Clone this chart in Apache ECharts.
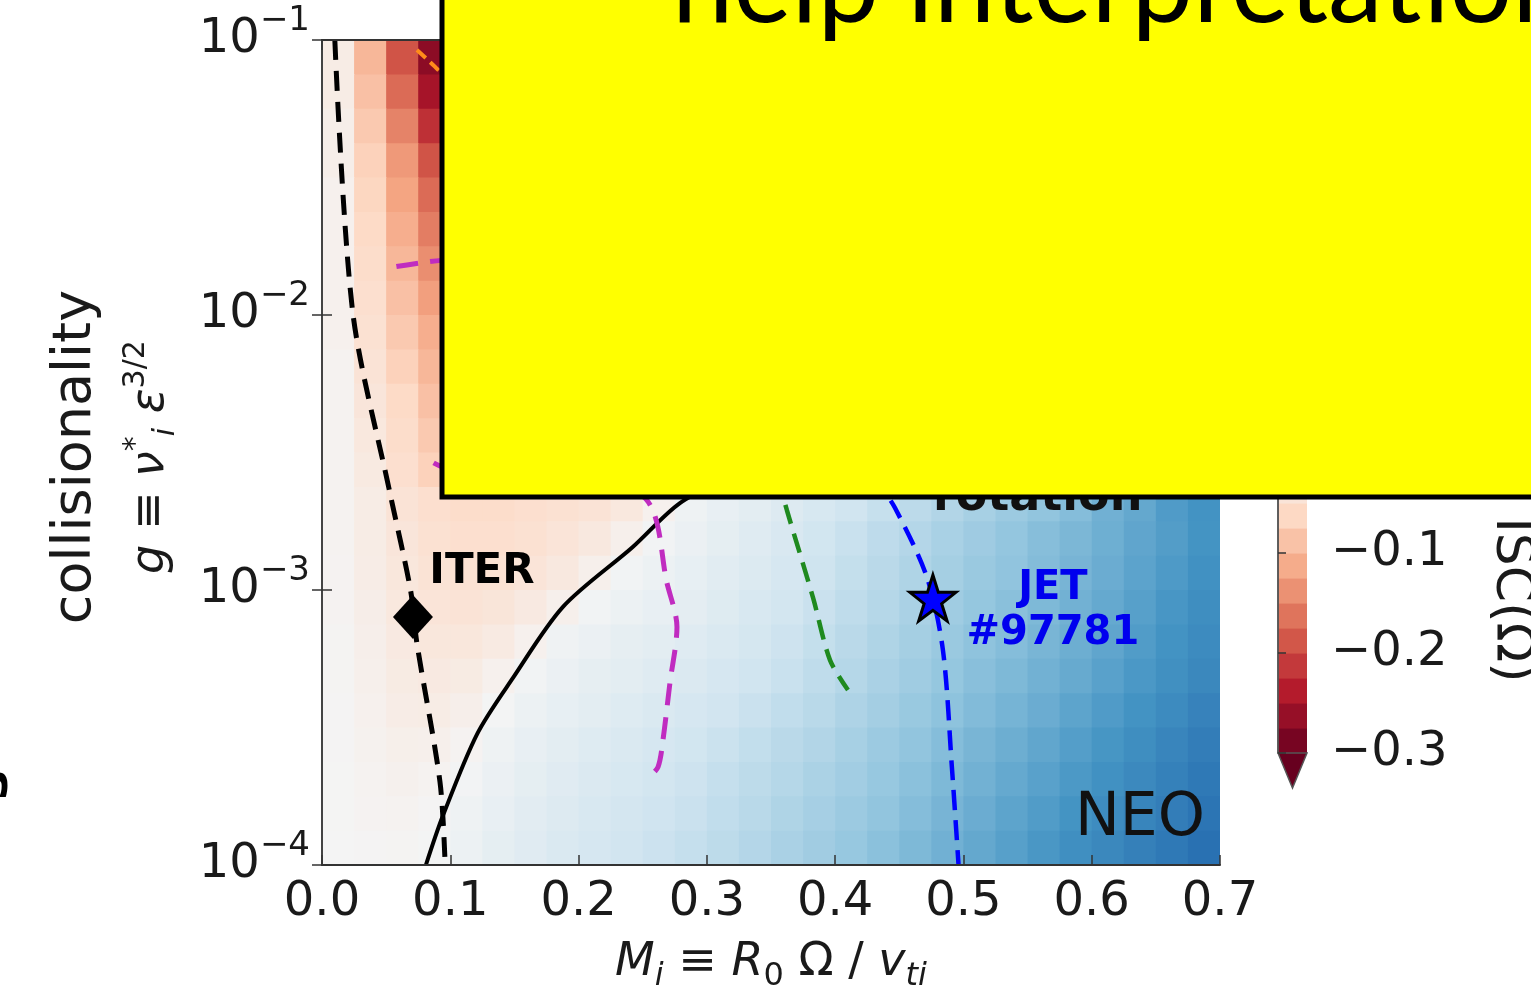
<!DOCTYPE html>
<html>
<head>
<meta charset="utf-8">
<script src="https://cdn.jsdelivr.net/npm/echarts@6.0.0/dist/echarts.min.js"></script>
<style>
html, body { margin: 0; background: #fff; }
#main { width: 1531px; height: 990px; }
</style>
</head>
<body>
<div id="main"></div>
<script>
// shaded map: cell centres in M_i and in log10(g)
var cellX = [0.0125, 0.0375, 0.0625, 0.0875, 0.1125, 0.1375, 0.1625, 0.1875, 0.2125, 0.2375,
  0.2625, 0.2875, 0.3125, 0.3375, 0.3625, 0.3875, 0.4125, 0.4375, 0.4625, 0.4875,
  0.5125, 0.5375, 0.5625, 0.5875, 0.6125, 0.6375, 0.6625, 0.6875];
var cellLogG = [-1.0625, -1.1875, -1.3125, -1.4375, -1.5625, -1.6875, -1.8125, -1.9375,
  -2.0625, -2.1875, -2.3125, -2.4375, -2.5625, -2.6875, -2.8125, -2.9375,
  -3.0625, -3.1875, -3.3125, -3.4375, -3.5625, -3.6875, -3.8125, -3.9375];
// rows from top (g = 0.1) to bottom (g = 1e-4)
var field = [
  [-0.02,-0.10,-0.19,-0.27,-0.31,-0.33,-0.34,-0.34,-0.33,-0.32,-0.31,-0.30,-0.28,-0.27,-0.25,-0.24,-0.22,-0.20,-0.18,-0.16,-0.14,-0.12,-0.10,-0.08,-0.07,-0.05,-0.03,-0.02],
  [-0.02,-0.09,-0.17,-0.25,-0.29,-0.31,-0.32,-0.32,-0.31,-0.30,-0.29,-0.27,-0.26,-0.24,-0.22,-0.21,-0.19,-0.17,-0.15,-0.13,-0.11,-0.09,-0.07,-0.05,-0.04,-0.02,0.00,0.01],
  [-0.015,-0.08,-0.15,-0.22,-0.26,-0.28,-0.29,-0.29,-0.28,-0.27,-0.26,-0.24,-0.23,-0.21,-0.19,-0.17,-0.15,-0.13,-0.11,-0.09,-0.08,-0.06,-0.04,-0.02,0.00,0.01,0.03,0.04],
  [-0.015,-0.07,-0.13,-0.19,-0.23,-0.25,-0.26,-0.26,-0.25,-0.24,-0.22,-0.21,-0.19,-0.17,-0.15,-0.13,-0.11,-0.10,-0.08,-0.06,-0.04,-0.02,0.00,0.01,0.03,0.04,0.06,0.07],
  [-0.01,-0.065,-0.12,-0.17,-0.20,-0.22,-0.23,-0.23,-0.22,-0.21,-0.19,-0.17,-0.15,-0.14,-0.12,-0.10,-0.08,-0.06,-0.05,-0.03,-0.01,0.01,0.02,0.04,0.05,0.07,0.08,0.10],
  [-0.01,-0.06,-0.11,-0.155,-0.18,-0.19,-0.20,-0.20,-0.19,-0.18,-0.16,-0.14,-0.12,-0.11,-0.09,-0.07,-0.05,-0.04,-0.02,0.00,0.01,0.03,0.04,0.06,0.07,0.09,0.10,0.12],
  [-0.01,-0.055,-0.10,-0.14,-0.16,-0.17,-0.17,-0.17,-0.16,-0.15,-0.13,-0.12,-0.10,-0.08,-0.06,-0.05,-0.03,-0.01,0.00,0.02,0.03,0.05,0.06,0.08,0.09,0.11,0.12,0.14],
  [-0.01,-0.05,-0.09,-0.125,-0.14,-0.15,-0.15,-0.15,-0.14,-0.12,-0.11,-0.09,-0.08,-0.06,-0.04,-0.03,-0.01,0.00,0.02,0.03,0.05,0.06,0.08,0.09,0.11,0.12,0.14,0.15],
  [-0.01,-0.045,-0.08,-0.11,-0.12,-0.13,-0.13,-0.13,-0.12,-0.10,-0.09,-0.07,-0.06,-0.04,-0.03,-0.01,0.00,0.02,0.03,0.05,0.06,0.08,0.09,0.11,0.12,0.13,0.15,0.16],
  [-0.005,-0.04,-0.07,-0.10,-0.11,-0.11,-0.11,-0.11,-0.10,-0.09,-0.07,-0.06,-0.04,-0.03,-0.01,0.00,0.02,0.03,0.05,0.06,0.07,0.09,0.10,0.12,0.13,0.14,0.16,0.17],
  [-0.005,-0.035,-0.06,-0.09,-0.10,-0.10,-0.10,-0.09,-0.08,-0.07,-0.06,-0.04,-0.03,-0.01,0.00,0.01,0.03,0.04,0.06,0.07,0.08,0.10,0.11,0.12,0.14,0.15,0.16,0.17],
  [-0.005,-0.03,-0.055,-0.08,-0.09,-0.09,-0.08,-0.08,-0.07,-0.06,-0.04,-0.03,-0.02,0.00,0.01,0.02,0.04,0.05,0.06,0.08,0.09,0.10,0.12,0.13,0.14,0.15,0.17,0.18],
  [-0.005,-0.025,-0.05,-0.07,-0.08,-0.08,-0.07,-0.07,-0.06,-0.05,-0.03,-0.02,-0.01,0.01,0.02,0.03,0.04,0.06,0.07,0.08,0.10,0.11,0.12,0.13,0.15,0.16,0.17,0.18],
  [-0.005,-0.02,-0.04,-0.05,-0.055,-0.055,-0.05,-0.045,-0.04,-0.03,-0.01,0.01,0.02,0.03,0.04,0.05,0.06,0.07,0.08,0.09,0.10,0.11,0.12,0.13,0.145,0.155,0.17,0.18],
  [-0.005,-0.02,-0.035,-0.045,-0.05,-0.05,-0.045,-0.038,-0.028,-0.012,0.006,0.016,0.025,0.036,0.047,0.058,0.068,0.078,0.088,0.098,0.108,0.118,0.128,0.137,0.147,0.158,0.168,0.179],
  [-0.004,-0.018,-0.032,-0.042,-0.046,-0.044,-0.038,-0.028,-0.012,0.006,0.014,0.022,0.032,0.042,0.052,0.062,0.072,0.082,0.092,0.102,0.112,0.121,0.131,0.14,0.15,0.161,0.172,0.183],
  [-0.004,-0.016,-0.03,-0.038,-0.04,-0.036,-0.026,-0.012,0.006,0.013,0.02,0.028,0.038,0.048,0.057,0.067,0.077,0.087,0.097,0.107,0.117,0.126,0.135,0.144,0.154,0.165,0.176,0.187],
  [-0.003,-0.014,-0.026,-0.032,-0.032,-0.024,-0.01,0.008,0.016,0.024,0.03,0.036,0.045,0.054,0.063,0.072,0.082,0.092,0.102,0.112,0.122,0.13,0.139,0.148,0.158,0.169,0.18,0.191],
  [-0.003,-0.012,-0.022,-0.026,-0.022,-0.01,0.006,0.016,0.024,0.03,0.036,0.043,0.051,0.06,0.068,0.077,0.087,0.097,0.107,0.117,0.127,0.135,0.144,0.153,0.163,0.174,0.184,0.195],
  [-0.002,-0.01,-0.018,-0.02,-0.014,0.002,0.013,0.022,0.03,0.037,0.044,0.051,0.059,0.067,0.075,0.083,0.093,0.103,0.113,0.123,0.132,0.141,0.15,0.16,0.17,0.18,0.191,0.202],
  [-0.002,-0.008,-0.013,-0.012,-0.004,0.01,0.02,0.029,0.037,0.044,0.051,0.058,0.066,0.074,0.082,0.09,0.1,0.11,0.12,0.13,0.139,0.148,0.157,0.167,0.177,0.187,0.198,0.209],
  [-0.001,-0.006,-0.009,-0.006,0.004,0.016,0.026,0.035,0.043,0.05,0.057,0.063,0.071,0.079,0.087,0.096,0.105,0.115,0.125,0.135,0.144,0.154,0.163,0.173,0.183,0.193,0.204,0.215],
  [-0.001,-0.004,-0.006,-0.002,0.01,0.021,0.031,0.04,0.048,0.055,0.061,0.067,0.075,0.083,0.092,0.101,0.11,0.12,0.13,0.14,0.15,0.16,0.169,0.179,0.189,0.199,0.209,0.22],
  [0.0,-0.002,-0.003,0.002,0.014,0.025,0.035,0.044,0.052,0.059,0.065,0.071,0.079,0.088,0.097,0.106,0.115,0.125,0.135,0.145,0.155,0.165,0.175,0.185,0.195,0.205,0.215,0.225]
];

// contour lines (M_i, g)
var iterX = [0.010, 0.024, 0.053, 0.069, 0.074, 0.092, 0.096];
var iterG = [0.1, 0.0102, 0.00225, 0.001, 0.00064, 0.0002, 0.0001];
var zeroX = [0.081, 0.094, 0.121, 0.149, 0.188, 0.242, 0.279, 0.33, 0.40];
var zeroG = [0.0001, 0.00015, 0.0003, 0.00048, 0.00087, 0.00143, 0.00207, 0.0028, 0.0045];
var magUpX = [0.058, 0.093, 0.14];
var magUpG = [0.0150, 0.0158, 0.016];
var magLowX = [0.087, 0.095, 0.2, 0.2533, 0.2689, 0.2767, 0.2712, 0.2658, 0.2619, 0.2541];
var magLowG = [0.0029, 0.0028, 0.0026, 0.00212, 0.00106, 0.000733, 0.000459, 0.000285, 0.000227, 0.000207];
var greenX = [0.355, 0.3624, 0.3827, 0.396, 0.41];
var greenG = [0.0026, 0.00195, 0.00094, 0.000556, 0.000433];
var blueX = [0.43, 0.4466, 0.4716, 0.484, 0.491, 0.4962];
var blueG = [0.0026, 0.00199, 0.00111, 0.000605, 0.000227, 0.0001];
var orangeX = [0.074, 0.088, 0.1];
var orangeG = [0.092, 0.080, 0.07];

var iterPoint = [0.0709, 0.000798];
var jetPoint = [0.4762, 0.000935];

// colour bar levels (lower edge of each band)
var cbarLow = [-0.3, -0.275, -0.25, -0.225, -0.2, -0.175, -0.15, -0.125, -0.1, -0.075, -0.05, -0.025,
  0, 0.025, 0.05, 0.075, 0.1, 0.125, 0.15, 0.175, 0.2, 0.225, 0.25, 0.275];

var rdbu = ['#67001f', '#b2182b', '#d6604d', '#f4a582', '#fddbc7', '#f4f4f4',
  '#d1e5f0', '#92c5de', '#4393c3', '#2166ac', '#053061'];
var F = "'DejaVu Sans', sans-serif";
var TXT = '#1a1a1a';

function pairs(xs, ys) {
  return xs.map(function (x, i) { return [x, ys[i]]; });
}

var cellData = [];
for (var r = 0; r < cellLogG.length; r++) {
  for (var c = 0; c < cellX.length; c++) {
    cellData.push([cellX[c], Math.pow(10, cellLogG[r]), field[r][c]]);
  }
}
var cbarData = cbarLow.map(function (lo) { return [0, lo, lo + 0.025, lo + 0.0125]; });

function drawCell(params, api) {
  var x = api.value(0);
  var lg = Math.log10(api.value(1));
  var a = api.coord([x - 0.0125, Math.pow(10, lg + 0.0625)]);
  var b = api.coord([x + 0.0125, Math.pow(10, lg - 0.0625)]);
  return {
    type: 'rect',
    shape: { x: a[0], y: a[1], width: b[0] - a[0] + 0.8, height: b[1] - a[1] + 0.8 },
    style: { fill: api.visual('color') }
  };
}

function drawBand(params, api) {
  var a = api.coord([0, api.value(2)]);
  var b = api.coord([1, api.value(1)]);
  return {
    type: 'rect',
    shape: { x: a[0], y: a[1], width: b[0] - a[0], height: b[1] - a[1] + 0.6 },
    style: { fill: api.visual('color') }
  };
}

function drawArrow(params, api) {
  var p1 = api.coord([0, -0.3]);
  var p2 = api.coord([1, -0.3]);
  var p3 = api.coord([0.5, -0.335]);
  return {
    type: 'polygon',
    shape: { points: [p1, p2, p3] },
    style: { fill: '#67001f', stroke: '#555', lineWidth: 1.5 }
  };
}

function dashed(name, xs, ys, color, width, dash) {
  return {
    name: name, type: 'line', xAxisIndex: 0, yAxisIndex: 0,
    data: pairs(xs, ys), showSymbol: false, smooth: 0.3, z: 4,
    lineStyle: { color: color, width: width, type: dash }
  };
}

var chart = echarts.init(document.getElementById('main'));

var option = {
  animation: false,
  backgroundColor: '#fff',
  grid: [
    { left: 322, top: 40, width: 898, height: 825, outerBoundsMode: 'none' },
    { left: 1278, top: 153, width: 29, height: 600, outerBoundsMode: 'none' }
  ],
  xAxis: [
    {
      type: 'value', gridIndex: 0, min: 0, max: 0.7, interval: 0.1, z: 10,
      axisLine: { lineStyle: { color: '#333', width: 2 } },
      axisTick: { inside: true, length: 10, lineStyle: { color: '#333', width: 1.5 } },
      splitLine: { show: false },
      axisLabel: {
        margin: 14, fontSize: 48, fontFamily: F, color: TXT,
        formatter: function (v) { return v.toFixed(1); }
      },
      name: '{it|M}{sub|i}{n| ≡ }{it|R}{sub0|0}{n| Ω / }{it|v}{sub|ti}',
      nameLocation: 'middle', nameGap: 68,
      nameTextStyle: {
        rich: {
          it: { fontSize: 46, fontStyle: 'italic', fontFamily: F, color: TXT, lineHeight: 60 },
          n: { fontSize: 46, fontFamily: F, color: TXT, lineHeight: 60 },
          sub: { fontSize: 32, fontStyle: 'italic', fontFamily: F, color: TXT, lineHeight: 32, verticalAlign: 'bottom' },
          sub0: { fontSize: 32, fontFamily: F, color: TXT, lineHeight: 32, verticalAlign: 'bottom' }
        }
      }
    },
    {
      type: 'value', gridIndex: 0, position: 'top', min: 0, max: 0.7, interval: 0.1, z: 10,
      axisLine: { lineStyle: { color: '#333', width: 2 } },
      axisTick: { inside: true, length: 10, lineStyle: { color: '#333', width: 1.5 } },
      axisLabel: { show: false }, splitLine: { show: false }
    },
    {
      type: 'value', gridIndex: 1, min: 0, max: 1, show: false
    }
  ],
  yAxis: [
    {
      type: 'log', logBase: 10, gridIndex: 0, min: 0.0001, max: 0.1, z: 10,
      axisLine: { show: true, lineStyle: { color: '#444', width: 2 } },
      axisTick: { show: true, inside: true, length: 10, lineStyle: { color: '#333', width: 1.5 } },
      minorTick: { show: false },
      splitLine: { show: false },
      axisLabel: {
        margin: 12,
        formatter: function (v) {
          var e = Math.round(Math.log10(v));
          return '{b|10}{s|−' + (-e) + '}';
        },
        rich: {
          b: { fontSize: 48, fontFamily: F, color: TXT, lineHeight: 72 },
          s: { fontSize: 34, fontFamily: F, color: TXT, lineHeight: 34, verticalAlign: 'top' }
        }
      }
    },
    {
      type: 'log', logBase: 10, gridIndex: 0, position: 'right', min: 0.0001, max: 0.1, z: 10,
      axisLine: { show: true, lineStyle: { color: '#444', width: 2 } },
      axisTick: { show: true, inside: true, length: 10, lineStyle: { color: '#333', width: 1.5 } },
      axisLabel: { show: false }, splitLine: { show: false }
    },
    {
      type: 'value', gridIndex: 1, position: 'right', min: -0.3, max: 0.3, interval: 0.1, z: 10,
      axisLine: { show: true, lineStyle: { color: '#555', width: 1.5 } },
      axisTick: { show: true, length: 8, lineStyle: { color: '#333', width: 1.5 } },
      splitLine: { show: false },
      axisLabel: {
        margin: 24, fontSize: 48, fontFamily: F, color: TXT,
        formatter: function (v) {
          return (v < -1e-9 ? '−' : '') + Math.abs(v).toFixed(1);
        }
      }
    },
    {
      type: 'value', gridIndex: 1, position: 'left', min: -0.3, max: 0.3, z: 10,
      axisLine: { show: true, lineStyle: { color: '#555', width: 1.5 } },
      axisTick: { show: false }, axisLabel: { show: false }, splitLine: { show: false }
    }
  ],
  visualMap: [
    {
      type: 'continuous', show: false, seriesIndex: 0, dimension: 2,
      min: -0.3, max: 0.3, inRange: { color: rdbu }
    },
    {
      type: 'continuous', show: false, seriesIndex: 1, dimension: 3,
      min: -0.3, max: 0.3, inRange: { color: rdbu }
    }
  ],
  series: [
    {
      type: 'custom', xAxisIndex: 0, yAxisIndex: 0, renderItem: drawCell,
      data: cellData, encode: { x: 0, y: 1 }, clip: true, z: 1, silent: true
    },
    {
      type: 'custom', xAxisIndex: 2, yAxisIndex: 2, renderItem: drawBand,
      data: cbarData, encode: { x: 0, y: [1, 2] }, z: 1, silent: true
    },
    {
      type: 'custom', xAxisIndex: 2, yAxisIndex: 2, renderItem: drawArrow,
      data: [[0, -0.3]], encode: { x: 0, y: 1 }, clip: false, z: 1, silent: true
    },
    dashed('ITER path', iterX, iterG, '#000', 5, [20, 11]),
    {
      name: 'zero', type: 'line', xAxisIndex: 0, yAxisIndex: 0, data: pairs(zeroX, zeroG),
      showSymbol: false, smooth: 0.3, z: 4, lineStyle: { color: '#000', width: 4 }
    },
    dashed('magenta upper', magUpX, magUpG, '#c02cc0', 5, [22, 12]),
    dashed('magenta', magLowX, magLowG, '#c02cc0', 5, [22, 12]),
    dashed('green', greenX, greenG, '#1f8a1f', 4.5, [20, 10]),
    dashed('blue', blueX, blueG, '#0000ff', 4.5, [20, 10]),
    dashed('orange', orangeX, orangeG, '#ff8c1a', 4, [12, 6]),
    {
      name: 'ITER', type: 'scatter', xAxisIndex: 0, yAxisIndex: 0, data: [iterPoint],
      symbol: 'diamond', symbolSize: [40, 44], z: 6,
      itemStyle: { color: '#000', opacity: 1 },
      label: {
        show: true, position: 'inside', formatter: 'ITER', offset: [69, -45],
        fontSize: 42, fontWeight: 'bold', fontFamily: F, color: '#000', opacity: 1
      }
    },
    {
      name: 'JET', type: 'scatter', xAxisIndex: 0, yAxisIndex: 0, data: [jetPoint],
      symbol: 'path://M50,2 L61.8,38.2 L100,38.2 L69.1,61.8 L80.9,98 L50,75.6 L19.1,98 L30.9,61.8 L0,38.2 L38.2,38.2 Z',
      symbolSize: 46, z: 6,
      itemStyle: { color: '#0000ff', borderColor: '#000', borderWidth: 3, opacity: 1 },
      label: {
        show: true, position: 'inside', formatter: 'JET\n#97781', offset: [120, 13],
        fontSize: 40, lineHeight: 45, fontWeight: 'bold', fontFamily: F, color: '#0000ee',
        align: 'center', opacity: 1
      }
    }
  ],
  graphic: [
    {
      type: 'text', z: 20, style: {
        text: 'NEO', x: 1205, y: 819, align: 'right', verticalAlign: 'middle',
        fontSize: 60, fontFamily: F, fill: '#111'
      }
    },
    {
      type: 'text', z: 20, style: {
        text: 'rotation', x: 933, y: 498, align: 'left', verticalAlign: 'middle',
        fontSize: 46, fontWeight: 'bold', fontFamily: F, fill: '#111'
      }
    },
    {
      type: 'text', z: 20, x: 76, y: 457, rotation: Math.PI / 2, style: {
        text: 'collisionality', align: 'center', verticalAlign: 'middle',
        fontSize: 54, fontFamily: F, fill: TXT
      }
    },
    {
      type: 'text', z: 20, x: 151, y: 457, rotation: Math.PI / 2, style: {
        text: '{it|g}{n| ≡ }{it|ν}{sup|*}{sub|i}{it| ε}{sup|3/2}',
        align: 'center', verticalAlign: 'middle',
        rich: {
          it: { fontSize: 46, fontStyle: 'italic', fontFamily: F, fill: TXT, lineHeight: 60 },
          n: { fontSize: 46, fontFamily: F, fill: TXT, lineHeight: 60 },
          sup: { fontSize: 30, fontFamily: F, fill: TXT, lineHeight: 30, verticalAlign: 'top' },
          sub: { fontSize: 30, fontStyle: 'italic', fontFamily: F, fill: TXT, lineHeight: 30, verticalAlign: 'bottom' }
        }
      }
    },
    {
      type: 'text', z: 20, x: 1511, y: 600, rotation: -Math.PI / 2, style: {
        text: 'ISC(Ω)', align: 'center', verticalAlign: 'middle',
        fontSize: 52, fontFamily: F, fill: TXT
      }
    },
    {
      type: 'text', z: 20, x: -6, y: 785, rotation: Math.PI / 2, style: {
        text: 's', align: 'center', verticalAlign: 'middle',
        fontSize: 50, fontWeight: 'bold', fontFamily: F, fill: '#000'
      }
    },
    {
      type: 'rect', z: 100, shape: { x: 442, y: -10, width: 1200, height: 507 },
      style: { fill: '#ffff00', stroke: '#000', lineWidth: 5 }
    },
    {
      type: 'text', z: 101, style: {
        text: 'help interpretation', x: 672, y: -13, align: 'left', verticalAlign: 'middle',
        fontSize: 110, fontFamily: "Lato, 'Open Sans', sans-serif", fill: '#000'
      }
    }
  ]
};

chart.setOption(option);
</script>
</body>
</html>
